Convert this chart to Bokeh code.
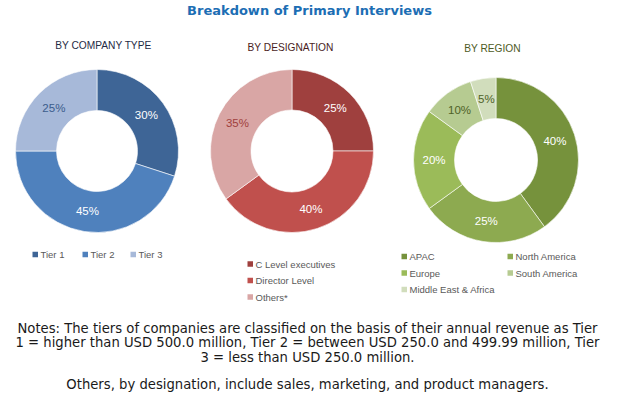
import math
from bokeh.plotting import figure
from bokeh.models import Range1d, ColumnDataSource
from bokeh.core.properties import value
from bokeh.embed import file_html
from bokeh.resources import INLINE

# ---------------- data ----------------
chart_title = "Breakdown of Primary Interviews"

company_title = "BY COMPANY TYPE"
company_labels = ["Tier 1", "Tier 2", "Tier 3"]
company_values = [30, 45, 25]

designation_title = "BY DESIGNATION"
designation_labels = ["C Level executives", "Director Level", "Others*"]
designation_values = [25, 40, 35]

region_title = "BY REGION"
region_labels = ["APAC", "North America", "Europe", "South America", "Middle East & Africa"]
region_values = [40, 25, 20, 10, 5]

notes_lines = [
    "Notes: The tiers of companies are classified on the basis of their annual revenue as Tier",
    "1 = higher than USD 500.0 million, Tier 2 = between USD 250.0 and 499.99 million, Tier",
    "3 = less than USD 250.0 million.",
    "Others, by designation, include sales, marketing, and product managers.",
]

# ---------------- styles ----------------
company_colors = ["#3E6596", "#4F81BD", "#A7B9D9"]
company_label_colors = ["white", "white", "#3B5C8C"]
designation_colors = ["#9F403E", "#C0504D", "#D9A6A5"]
designation_label_colors = ["white", "white", "#A03F3D"]
region_colors = ["#76923C", "#8DAA50", "#9BBB59", "#B6CB91", "#D1DDBC"]
region_label_colors = ["white", "white", "white", "#4F6228", "#4F6228"]

W, H = 618, 395
PAGE_H = 395


def Y(y):
    # convert a top-down pixel position into data y
    return PAGE_H - y


p = figure(width=W, height=H, output_backend="svg", toolbar_location=None,
           x_axis_type=None, y_axis_type=None,
           x_range=Range1d(0, W), y_range=Range1d(PAGE_H - H, PAGE_H),
           min_border=0, outline_line_color=None)
p.grid.visible = False
p.background_fill_color = "white"
p.border_fill_color = "white"

PCT_FONT = value("Liberation Sans")
LEG_FONT = value("Liberation Sans")


def donut(cx, cy, r_in, r_out, values, colors, label_colors):
    total = float(sum(values))
    starts, ends, lx, ly, txt = [], [], [], [], []
    c = 0.0
    for v in values:
        a0 = math.pi / 2 - 2 * math.pi * c / total
        a1 = math.pi / 2 - 2 * math.pi * (c + v) / total
        starts.append(a0)
        ends.append(a1)
        mid = (a0 + a1) / 2
        rm = (r_in + r_out) / 2
        lx.append(cx + rm * math.cos(mid))
        ly.append(Y(cy) + rm * math.sin(mid))
        txt.append(f"{v}%")
        c += v
    src = ColumnDataSource(dict(start=starts, end=ends, color=colors))
    p.annular_wedge(x=cx, y=Y(cy), inner_radius=r_in, outer_radius=r_out,
                    start_angle="start", end_angle="end", direction="clock",
                    fill_color="color", line_color="white", line_width=0.6,
                    source=src)
    lsrc = ColumnDataSource(dict(x=lx, y=ly, text=txt, color=label_colors))
    p.text(x="x", y="y", text="text", source=lsrc, text_color="color",
           text_align="center", text_baseline="middle",
           text_font=PCT_FONT, text_font_size=value("11.5px"))


def legend(xs, ys, labels, colors):
    p.rect(x=[x + 2.75 for x in xs], y=[Y(y) for y in ys], width=5.5, height=5.5,
           fill_color=colors, line_color=None)
    p.text(x=[x + 8 for x in xs], y=[Y(y) for y in ys], text=labels,
           text_color="#595959", text_align="left", text_baseline="middle",
           text_font=LEG_FONT, text_font_size=value("9.5px"))


# title
p.text(x=[309], y=[Y(10)], text=[chart_title], text_color="#1C6EB4",
       text_align="center", text_baseline="middle",
       text_font=value("DejaVu Sans"), text_font_style="bold",
       text_font_size=value("13px"))

# section titles
sec_font = value("Liberation Sans")
sec_size = value("10.2px")
p.text(x=[103], y=[Y(45)], text=[company_title], text_color="#1F2B45",
       text_align="center", text_baseline="middle", text_font=sec_font,
       text_font_size=sec_size)
p.text(x=[290], y=[Y(46.5)], text=[designation_title], text_color="#4A1D1D",
       text_align="center", text_baseline="middle", text_font=sec_font,
       text_font_size=sec_size)
p.text(x=[492], y=[Y(47.5)], text=[region_title], text_color="#4E5A24",
       text_align="center", text_baseline="middle", text_font=sec_font,
       text_font_size=sec_size)

# donuts
donut(96.5, 150.5, 40.5, 81.5, company_values, company_colors, company_label_colors)
donut(291.5, 150.5, 41, 81.5, designation_values, designation_colors, designation_label_colors)
donut(495.5, 159.5, 41.5, 82.5, region_values, region_colors, region_label_colors)

# legends
legend([32, 82, 130], [254, 254, 254], company_labels, company_colors)
legend([247, 247, 247], [263.5, 280, 296.5], designation_labels, designation_colors)
legend([401, 507, 401, 507, 401], [256, 256, 272.5, 272.5, 289], region_labels, region_colors)

# notes
p.text(x=[307] * 4, y=[Y(v) for v in [327.7, 342.3, 356.7, 383.5]], text=notes_lines,
       text_color="#1a1a1a", text_align="center", text_baseline="middle",
       text_font=value("DejaVu Sans"), text_font_size=value("13.2px"))

open("out.html", "w").write(file_html(p, INLINE))
